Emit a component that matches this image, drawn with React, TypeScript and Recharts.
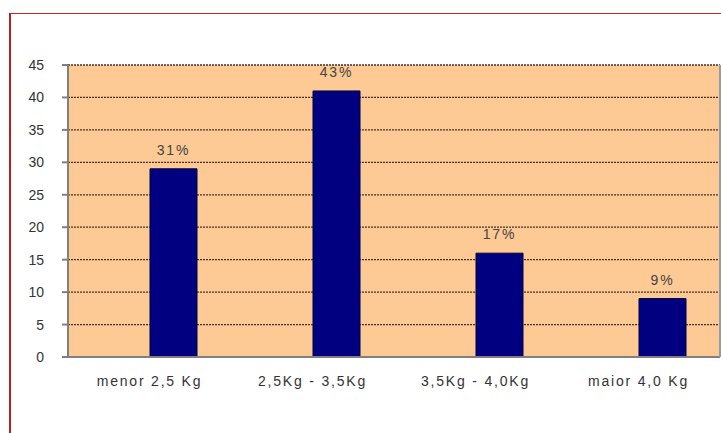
import { BarChart, Bar, XAxis, YAxis, CartesianGrid, LabelList } from "recharts";

const categorias = ["menor 2,5 Kg", "2,5Kg - 3,5Kg", "3,5Kg - 4,0Kg", "maior 4,0 Kg"];
const valores = [29, 41, 16, 9];
const percentuais = ["31%", "43%", "17%", "9%"];
const yTicks = [0, 5, 10, 15, 20, 25, 30, 35, 40, 45];

const data = categorias.map((categoria, i) => ({
  categoria,
  valor: valores[i],
  rotulo: percentuais[i],
}));

const font = "'Liberation Sans', Arial, sans-serif";

export default function App() {
  return (
    <div
      style={{
        position: "absolute",
        left: 0,
        top: 0,
        width: 721,
        height: 433,
        overflow: "hidden",
        background: "#fff",
        fontFamily: font,
      }}
    >
      <div
        style={{
          position: "absolute",
          left: 9,
          top: 13,
          width: 800,
          height: 500,
          borderLeft: "2px solid #b82020",
          borderTop: "1px solid #c82828",
        }}
      />
      <BarChart
        width={721}
        height={433}
        data={data}
        margin={{ top: 65, right: 0, bottom: 46, left: 0 }}
        barGap={0}
        barSize={47}
        style={{ position: "absolute", left: 0, top: 0 }}
      >
        <CartesianGrid
          yAxisId="left"
          vertical={false}
          fill="#fdc994"
          fillOpacity={1}
          stroke="#4a3020"
          strokeWidth={1.3}
          strokeDasharray="2 1"
        />
        <XAxis
          dataKey="categoria"
          height={30}
          interval={0}
          axisLine={{ stroke: "#808080", strokeWidth: 2 }}
          tickLine={false}
          tickMargin={13}
          tick={{ fill: "#333", fontSize: 14, fontFamily: font, letterSpacing: 1.8 }}
        />
        <YAxis
          yAxisId="left"
          width={68}
          domain={[0, 45]}
          ticks={yTicks}
          interval={0}
          axisLine={{ stroke: "#808080", strokeWidth: 2 }}
          tickLine={{ stroke: "#808080", strokeWidth: 2 }}
          tickSize={6}
          tickMargin={18}
          tick={{ fill: "#333", fontSize: 14, fontFamily: font }}
        />
        <YAxis
          yAxisId="right"
          orientation="right"
          width={1}
          tick={false}
          tickLine={false}
          axisLine={{ stroke: "#9a9a9a", strokeWidth: 2 }}
        />
        <Bar yAxisId="left" dataKey="vazio" fill="transparent" isAnimationActive={false} />
        <Bar
          yAxisId="left"
          dataKey="valor"
          fill="#000080"
          stroke="#00003a"
          strokeWidth={1}
          isAnimationActive={false}
        >
          <LabelList
            dataKey="rotulo"
            position="top"
            offset={14}
            fill="#444"
            fontSize={14}
            fontFamily={font}
            letterSpacing={1.8}
          />
        </Bar>
      </BarChart>
    </div>
  );
}
